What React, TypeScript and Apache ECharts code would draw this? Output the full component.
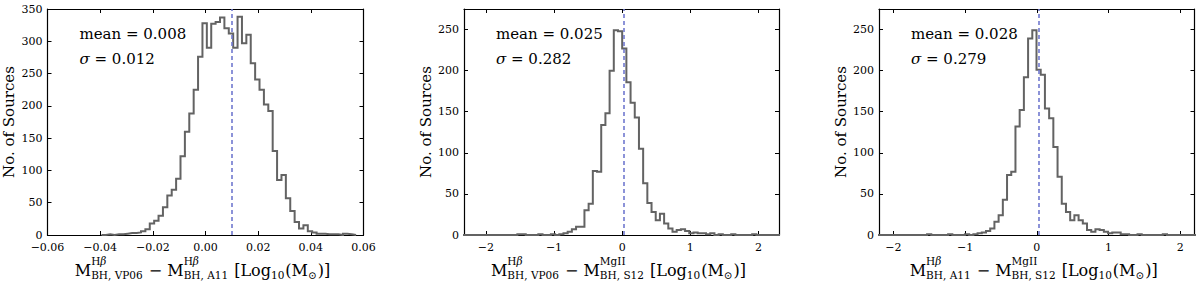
import React, { useEffect, useRef } from "react";
import * as echarts from "echarts";

// ---------------- data ----------------
// Panel 1: VP06 - A11 (Hβ)
const p1BinStart = -0.0395;
const p1BinWidth = 0.001667;
const p1Counts = [
  0, 1, 0, 1, 1, 2, 3, 3, 4, 6, 9, 18, 22, 30, 43, 61, 70, 87, 122, 160, 188, 225,
  276, 328, 290, 327, 330, 337, 320, 312, 290, 338, 297, 310, 266, 241, 225, 202,
  192, 130, 85, 93, 57, 37, 20, 10, 15, 6, 4, 2, 2, 1, 1, 1, 0, 2, 1, 0,
];
const p1XTicks = [-0.06, -0.04, -0.02, 0, 0.02, 0.04, 0.06];
const p1YTicks = [0, 50, 100, 150, 200, 250, 300, 350];

// Panel 2: VP06 (Hβ) - S12 (MgII)
const p2BinStart = -2.337;
const p2BinWidth = 0.0615;
const p2Counts = [
  0, 0, 0, 0, 0, 0, 0, 0, 0, 0, 0, 0, 0, 1, 1, 0, 0, 0, 1, 0, 0, 1, 0, 1,
  2, 4, 7, 10, 10, 30, 38, 78, 77, 134, 148, 200, 249, 248, 227, 186, 161, 143,
  105, 63, 39, 28, 18, 26, 14, 8, 4,
  6, 7, 5, 2, 3, 2, 2, 1, 2, 0, 1, 0, 0, 1, 0, 0, 0, 0, 1, 0, 0, 0, 0, 0, 0,
];
const p2XTicks = [-2, -1, 0, 1, 2];
const p2YTicks = [0, 50, 100, 150, 200, 250];

// Panel 3: A11 (Hβ) - S12 (MgII)
const p3BinStart = -2.234;
const p3BinWidth = 0.0587;
const p3Counts = [
  0, 0, 0, 0, 0, 0, 0, 0, 0, 0, 0, 0, 1, 0, 0, 0, 0, 1, 0, 0, 0, 1, 0, 1,
  2, 3, 5, 8, 16, 24, 43, 73, 77, 132, 152, 192, 239, 249, 201, 195, 154, 142,
  107, 71, 38, 28, 18, 24, 18, 14, 6,
  4, 7, 6, 4, 2, 3, 3, 1, 1, 0, 0, 1, 0, 0, 0, 0, 0, 1, 0, 0, 0, 0, 0, 0, 0,
];
const p3XTicks = [-2, -1, 0, 1, 2];
const p3YTicks = [0, 50, 100, 150, 200, 250];

const means = [0.008, 0.025, 0.028];
const meanLabels = ["mean = 0.008", "mean = 0.025", "mean = 0.028"];
const sigmaLabels = ["0.012", "0.282", "0.279"];
const xRanges = [
  [-0.06, 0.06],
  [-2.32, 2.3],
  [-2.2, 2.2],
];
const yMaxes = [350, 275, 275];
const yTitle = "No. of Sources";

// x-axis titles: text pieces, and [superscript, subscript] stacks
type Piece = { t: string } | { sup?: string; sub?: string };
const xTitles: Piece[][] = [
  [
    { t: "M" }, { sup: "Hβ", sub: "BH, VP06" }, { t: " \u2212 M" }, { sup: "Hβ", sub: "BH, A11" },
    { t: " [Log" }, { sub: "10" }, { t: "(M" }, { sub: "\u2299" }, { t: ")]" },
  ],
  [
    { t: "M" }, { sup: "Hβ", sub: "BH, VP06" }, { t: " \u2212 M" }, { sup: "MgII", sub: "BH, S12" },
    { t: " [Log" }, { sub: "10" }, { t: "(M" }, { sub: "\u2299" }, { t: ")]" },
  ],
  [
    { t: "M" }, { sup: "Hβ", sub: "BH, A11" }, { t: " \u2212 M" }, { sup: "MgII", sub: "BH, S12" },
    { t: " [Log" }, { sub: "10" }, { t: "(M" }, { sub: "\u2299" }, { t: ")]" },
  ],
];

// ---------------- layout & style ----------------
const FONT = "DejaVu Serif";
const GRIDS = [
  { left: 47.5, top: 9, width: 316, height: 226 },
  { left: 464, top: 9, width: 315, height: 226 },
  { left: 879, top: 9, width: 315.5, height: 226 },
];
const HIST_COLOR = "#636363";
const MEAN_COLOR = "#7078cf";

function stepPoints(start: number, w: number, counts: number[]) {
  const pts: number[][] = [[start, 0]];
  counts.forEach((c, i) => {
    pts.push([start + i * w, c], [start + (i + 1) * w, c]);
  });
  pts.push([start + counts.length * w, 0]);
  return pts;
}

const minus = (s: string) => s.replace("-", "\u2212");

export default function App() {
  const ref = useRef<HTMLDivElement>(null);

  useEffect(() => {
    if (!ref.current) return;
    const chart = echarts.init(ref.current, undefined, { renderer: "svg" });

    const canvas = document.createElement("canvas");
    const ctx = canvas.getContext("2d")!;
    const tw = (text: string, size: number) => {
      let w = 0;
      for (const ch of text) {
        ctx.font = `${ch === "β" ? "italic " : ""}${size}px "${FONT}"`;
        w += ctx.measureText(ch).width;
      }
      return w;
    };
    const richify = (s: string) => s.replace(/β/g, "{b|β}");

    const panels = [
      { start: p1BinStart, w: p1BinWidth, counts: p1Counts, xTicks: p1XTicks, yTicks: p1YTicks, fmt: (v: number) => minus(v.toFixed(2)) },
      { start: p2BinStart, w: p2BinWidth, counts: p2Counts, xTicks: p2XTicks, yTicks: p2YTicks, fmt: (v: number) => minus(String(v)) },
      { start: p3BinStart, w: p3BinWidth, counts: p3Counts, xTicks: p3XTicks, yTicks: p3YTicks, fmt: (v: number) => minus(String(v)) },
    ];

    const xAxis: any[] = [];
    const yAxis: any[] = [];
    const series: any[] = [];
    const graphic: any[] = [];

    const axisLine = { show: true, onZero: false, lineStyle: { color: "#000", width: 1.2 } };
    const tickStyle = { color: "#000", width: 1 };

    panels.forEach((p, i) => {
      const [xmin, xmax] = xRanges[i];
      xAxis.push({
        type: "value", gridIndex: i, position: "bottom", min: xmin, max: xmax,
        axisLine,
        axisTick: { show: true, inside: true, length: 4, customValues: p.xTicks, lineStyle: tickStyle },
        axisLabel: {
          show: true, customValues: p.xTicks, formatter: p.fmt, color: "#000",
          fontFamily: FONT, fontSize: 11, margin: 6.5,
        },
        splitLine: { show: false },
      });
      xAxis.push({
        type: "value", gridIndex: i, position: "top", min: xmin, max: xmax,
        axisLine,
        axisTick: { show: true, inside: true, length: 4, customValues: p.xTicks, lineStyle: tickStyle },
        axisLabel: { show: false },
        splitLine: { show: false },
      });
      yAxis.push({
        type: "value", gridIndex: i, position: "left", min: 0, max: yMaxes[i],
        axisLine,
        axisTick: { show: true, inside: true, length: 4, customValues: p.yTicks, lineStyle: tickStyle },
        axisLabel: {
          show: true, customValues: p.yTicks, formatter: (v: number) => String(v), color: "#000",
          fontFamily: FONT, fontSize: 11, margin: 5,
        },
        splitLine: { show: false },
        name: yTitle, nameLocation: "middle", nameRotate: 90, nameGap: 31,
        nameTextStyle: { fontFamily: FONT, fontSize: 15, color: "#000" },
      });
      yAxis.push({
        type: "value", gridIndex: i, position: "right", min: 0, max: yMaxes[i],
        axisLine,
        axisTick: { show: true, inside: true, length: 4, customValues: p.yTicks, lineStyle: tickStyle },
        axisLabel: { show: false },
        splitLine: { show: false },
      });

      series.push({
        type: "line", xAxisIndex: 2 * i, yAxisIndex: 2 * i,
        data: stepPoints(p.start, p.w, p.counts),
        showSymbol: false, symbol: "none", clip: true, silent: true,
        lineStyle: { color: HIST_COLOR, width: 2, join: "miter" },
        markLine: {
          silent: true, symbol: ["none", "none"], label: { show: false },
          lineStyle: { color: MEAN_COLOR, width: 1.6, type: [4, 3] },
          data: [{ xAxis: means[i] }],
        },
        z: 2,
      });

      const g = GRIDS[i];
      graphic.push({
        type: "text", x: g.left + 32, y: 34, silent: true,
        style: { text: meanLabels[i], fontFamily: FONT, fontSize: 15, fill: "#000", verticalAlign: "middle" },
      });
      graphic.push({
        type: "text", x: g.left + 32, y: 59, silent: true,
        style: {
          text: "{s|σ} = " + sigmaLabels[i], fontFamily: FONT, fontSize: 15, fill: "#000", verticalAlign: "middle",
          rich: { s: { fontStyle: "italic", fontFamily: FONT, fontSize: 15, fill: "#000" } },
        },
      });

      // x-axis title built from pieces
      const MAIN = 16, SCRIPT = 10.5;
      const yMain = 270, ySup = 260.5, ySub = 275;
      const children: any[] = [];
      let x = 0;
      xTitles[i].forEach((pc: any) => {
        if (pc.t !== undefined) {
          children.push({
            type: "text", x, y: yMain,
            style: { text: pc.t, fontFamily: FONT, fontSize: MAIN, fill: "#000", verticalAlign: "middle" },
          });
          x += tw(pc.t, MAIN);
        } else {
          let w = 0;
          if (pc.sup) {
            children.push({
              type: "text", x, y: ySup,
              style: {
                text: richify(pc.sup), fontFamily: FONT, fontSize: SCRIPT, fill: "#000", verticalAlign: "middle",
                rich: { b: { fontStyle: "italic", fontFamily: FONT, fontSize: SCRIPT, fill: "#000" } },
              },
            });
            w = Math.max(w, tw(pc.sup, SCRIPT));
          }
          if (pc.sub) {
            children.push({
              type: "text", x, y: ySub,
              style: { text: pc.sub, fontFamily: FONT, fontSize: SCRIPT, fill: "#000", verticalAlign: "middle" },
            });
            w = Math.max(w, tw(pc.sub, SCRIPT));
          }
          x += w + 1;
        }
      });
      const center = g.left + g.width / 2 - 3;
      graphic.push({ type: "group", x: center - x / 2, y: 0, silent: true, children });
    });

    chart.setOption({
      animation: false,
      backgroundColor: "#fff",
      grid: GRIDS.map((g) => ({ ...g, containLabel: false, outerBoundsMode: "none" })),
      xAxis,
      yAxis,
      series,
      graphic,
    });

    return () => chart.dispose();
  }, []);

  return (
    <div
      ref={ref}
      style={{ position: "absolute", left: 0, top: 0, width: 1200, height: 285, background: "#fff" }}
    />
  );
}
